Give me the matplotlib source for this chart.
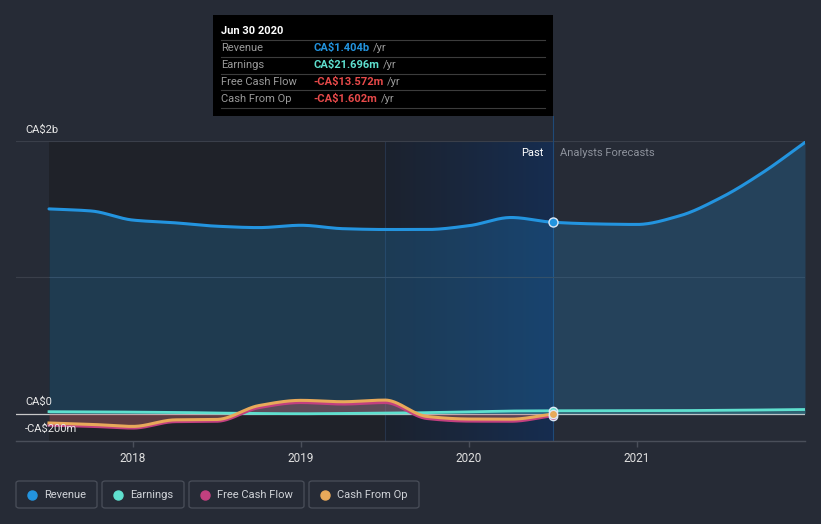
import numpy as np
import matplotlib
matplotlib.use("Agg")
import matplotlib.pyplot as plt
from matplotlib.patches import FancyBboxPatch, Rectangle
from matplotlib.colors import LinearSegmentedColormap
from matplotlib.lines import Line2D

plt.rcParams['font.family'] = ['Roboto', 'DejaVu Sans']

# ---------------- data (CA$ millions, decimal years) ----------------
past_t = [2017.5, 2017.75, 2018.0, 2018.25, 2018.5, 2018.75, 2019.0,
          2019.25, 2019.5, 2019.75, 2020.0, 2020.25, 2020.5]
revenue_past = [1502, 1487, 1420, 1400, 1375, 1365, 1382,
                1357, 1351, 1351, 1379, 1439, 1404]
earnings_past = [15, 14, 12, 10, 5, 2, 0, 2, 4, 8, 14, 20, 21.7]
fcf_past = [-83, -92, -105, -58, -55, 45, 82, 71, 82, -35, -54, -55, -13.6]
cfo_past = [-68, -78, -93, -45, -42, 60, 98, 88, 100, -20, -39, -40, -1.6]

fc_t = [2020.5, 2020.75, 2021.0, 2021.25, 2021.5, 2021.75, 2022.0]
revenue_fc = [1404, 1392, 1388, 1450, 1585, 1770, 1990]
earnings_fc_t = [2020.5, 2021.0, 2021.5, 2022.0]
earnings_fc = [21.7, 22, 25, 31]

year_ticks = [2018, 2019, 2020, 2021]
year_labels = ["2018", "2019", "2020", "2021"]
y_label_vals = [2000, 0, -200]
y_label_txt = ["CA$2b", "CA$0", "-CA$200m"]

series_names = ["Revenue", "Earnings", "Free Cash Flow", "Cash From Op"]
series_colors = ["#2394df", "#5fe0cf", "#c2407f", "#e8a95a"]
tooltip_date = "Jun 30 2020"
tooltip_vals = ["CA$1.404b", "CA$21.696m", "-CA$13.572m", "-CA$1.602m"]
tooltip_val_colors = ["#2394df", "#5fe0cf", "#e84a4a", "#e84a4a"]

# ---------------- helpers ----------------
def pchip(x, y, n=400):
    x = np.asarray(x, float); y = np.asarray(y, float)
    h = np.diff(x); d = np.diff(y) / h
    m = np.zeros_like(y)
    for k in range(1, len(x) - 1):
        if d[k - 1] * d[k] <= 0:
            m[k] = 0
        else:
            w1 = 2 * h[k] + h[k - 1]; w2 = h[k] + 2 * h[k - 1]
            m[k] = (w1 + w2) / (w1 / d[k - 1] + w2 / d[k])
    m[0] = d[0]; m[-1] = d[-1]
    xs = np.linspace(x[0], x[-1], n)
    idx = np.clip(np.searchsorted(x, xs) - 1, 0, len(x) - 2)
    t = (xs - x[idx]) / h[idx]
    h00 = 2 * t**3 - 3 * t**2 + 1; h10 = t**3 - 2 * t**2 + t
    h01 = -2 * t**3 + 3 * t**2; h11 = t**3 - t**2
    ys = h00 * y[idx] + h10 * h[idx] * m[idx] + h01 * y[idx + 1] + h11 * h[idx] * m[idx + 1]
    return xs, ys

W, H = 821, 524
BG = "#262b36"
fig = plt.figure(figsize=(W / 100, H / 100), dpi=100, facecolor=BG)

def fx(px): return px / W
def fy(py): return 1 - py / H

ax = fig.add_axes([fx(16), fy(441), fx(805) - fx(16), fy(141) - fy(441)])
ax.set_facecolor(BG)
ax.set_xlim(2017.3036, 2022.0)
ax.set_ylim(-200, 2000)

# past shading
ax.axvspan(2017.5, 2019.5, color="#1f2229", zorder=0, lw=0)
grad = LinearSegmentedColormap.from_list("g", ["#1c222e", "#162d50"])
ax.imshow(np.linspace(0, 1, 256)[None, :], extent=[2019.5, 2020.5, -200, 2000],
          aspect="auto", cmap=grad, zorder=0.5, interpolation="bilinear")
ax.axvline(2019.5, color="#26344a", lw=0.8, zorder=0.6)
ax.axvline(2020.5, color="#1f4a78", lw=0.8, zorder=0.6)

# gridlines
for v in [2000, 1000]:
    ax.axhline(v, color="#3a3f4a", lw=0.8, zorder=1)
ax.axhline(0, color="#c8c8c8", lw=0.9, zorder=2)

# revenue
rx, ry = pchip(past_t + fc_t[1:], revenue_past + revenue_fc[1:], 800)
ax.fill_between(rx, 0, ry, color="#2394df", alpha=0.22, lw=0, zorder=2)
ax.plot(rx, ry, color=series_colors[0], lw=2.2, zorder=5, solid_capstyle="round")

# earnings
ex, ey = pchip(past_t + earnings_fc_t[1:], earnings_past + earnings_fc[1:], 800)
ax.fill_between(ex, 0, ey, color=series_colors[1], alpha=0.2, lw=0, zorder=3)
ax.plot(ex, ey, color=series_colors[1], lw=2.0, zorder=6)

# fcf / cfo
fxs, fys = pchip(past_t, fcf_past, 500)
cxs, cys = pchip(past_t, cfo_past, 500)
ax.fill_between(fxs, 0, fys, color=series_colors[2], alpha=0.25, lw=0, zorder=3)
ax.fill_between(cxs, 0, cys, color=series_colors[3], alpha=0.15, lw=0, zorder=3)
ax.plot(fxs, fys, color=series_colors[2], lw=2.2, zorder=7)
ax.plot(cxs, cys, color=series_colors[3], lw=2.2, zorder=8)

# markers at tooltip date
ax.plot([2020.5], [revenue_past[-1]], "o", ms=6.5, mfc=series_colors[0], mec="#dde8f5", mew=1, zorder=10)
ax.plot([2020.5], [earnings_past[-1]], "o", ms=6, mfc=series_colors[1], mec="#dde8f5", mew=1, zorder=10)
ax.plot([2020.5], [fcf_past[-1]], "o", ms=6, mfc=series_colors[2], mec="#dde8f5", mew=1, zorder=11)
ax.plot([2020.5], [cfo_past[-1]], "o", ms=6, mfc=series_colors[3], mec="#dde8f5", mew=1, zorder=12)

# axes styling
for s in ["top", "right", "left"]:
    ax.spines[s].set_visible(False)
ax.spines["bottom"].set_color("#4a4f5a")
ax.spines["bottom"].set_linewidth(1)
ax.set_yticks([])
ax.set_xticks(year_ticks)
ax.set_xticklabels(year_labels, color="#e0e0e0", fontsize=8.5)
ax.tick_params(axis="x", colors="#4a4f5a", length=4, width=1, pad=4, labelcolor="#e0e0e0")

# y labels
ypix = [130, 402, 429]
for t, yp in zip(y_label_txt, ypix):
    fig.text(fx(25), fy(yp), t, color="#e8e8e8", fontsize=8, va="center", ha="left")

# Past / Analysts Forecasts
fig.text(fx(543), fy(153), "Past", color="#ffffff", fontsize=8, ha="right", va="center")
fig.text(fx(560), fy(153), "Analysts Forecasts", color="#8d929c", fontsize=8, ha="left", va="center")

# vertical tooltip line into header area
fig.add_artist(Line2D([fx(552.5), fx(552.5)], [fy(116), fy(141)], color="#1f4a78", lw=0.8))

# tooltip
fig.add_artist(Rectangle((fx(213), fy(116)), fx(553) - fx(213), fy(15) - fy(116),
                         facecolor="#000000", edgecolor="none", zorder=20))
fig.text(fx(221), fy(31), tooltip_date, color="white", fontsize=8, fontweight="bold",
         va="center", ha="left", zorder=21)
row_y = [48, 65, 82, 99]
for i in range(4):
    fig.add_artist(Line2D([fx(221), fx(545)], [fy(row_y[i] - 8.5)] * 2, color="#3c3c3c", lw=0.8, zorder=21))
    fig.text(fx(221), fy(row_y[i]), series_names[i], color="#9a9a9a", fontsize=8, va="center", ha="left", zorder=21)
    t = fig.text(fx(313), fy(row_y[i]), tooltip_vals[i], color=tooltip_val_colors[i], fontsize=8,
                 fontweight="bold", va="center", ha="left", zorder=21)
fig.add_artist(Line2D([fx(221), fx(545)], [fy(108)] * 2, color="#3c3c3c", lw=0.8, zorder=21))
fig.canvas.draw()
r = fig.canvas.get_renderer()
for txt in [t for t in fig.texts if t.get_text() in tooltip_vals]:
    bb = txt.get_window_extent(r)
    fig.text((bb.x1 + 4) / W, txt.get_position()[1], "/yr", color="#9a9a9a", fontsize=8,
             va="center", ha="left", zorder=21)

# legend boxes
boxes = [(16, 97), (102, 184), (189, 304), (309, 419)]
for (x0, x1), name, col in zip(boxes, series_names, series_colors):
    fig.add_artist(FancyBboxPatch((fx(x0), fy(508)), fx(x1) - fx(x0), fy(481) - fy(508),
                                  boxstyle="round,pad=0,rounding_size=0.004",
                                  facecolor="none", edgecolor="#4a4f5a", lw=0.9))
    fig.add_artist(Line2D([fx(x0 + 16)], [fy(494.5)], marker="o", ms=6.5, color=col, mec=col))
    fig.text(fx(x0 + 28), fy(494.5), name, color="#d0d3d8", fontsize=8, va="center", ha="left")

fig.savefig("out.png", dpi=100, facecolor=BG)
